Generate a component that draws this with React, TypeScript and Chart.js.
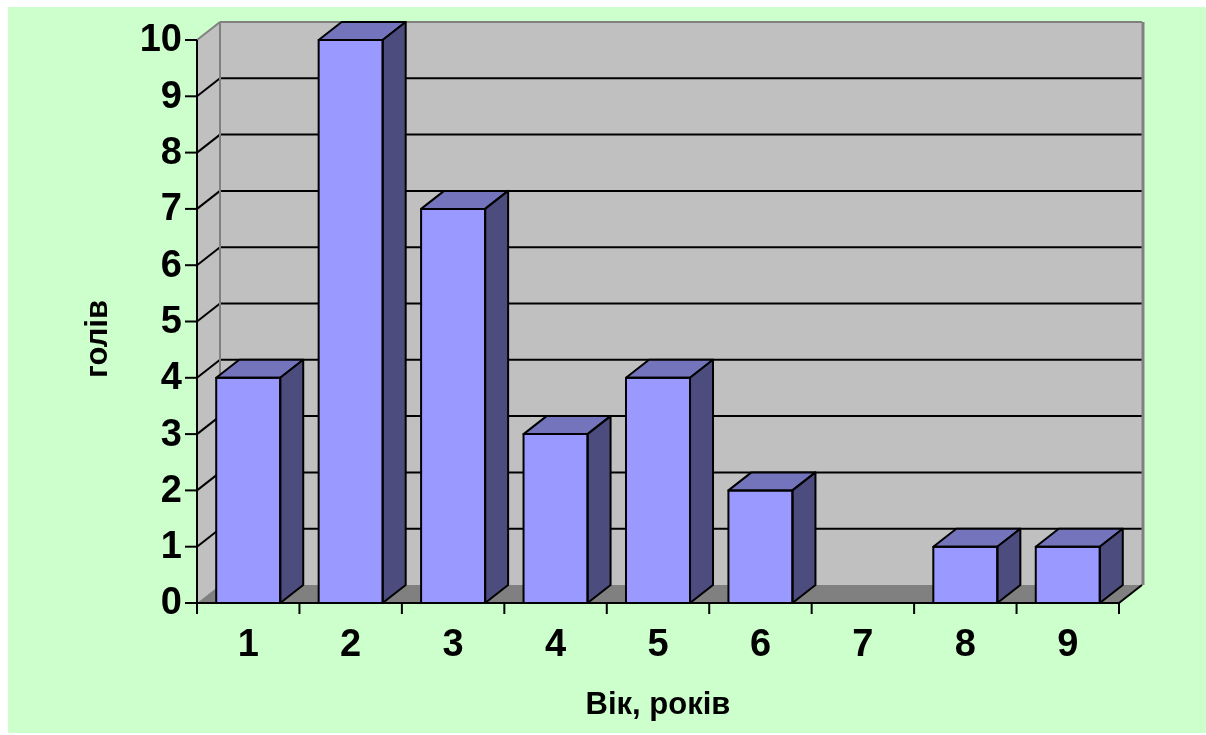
import React, { useEffect, useRef } from "react";
import { Chart, registerables } from "chart.js";

Chart.register(...registerables);

const categories = ["1", "2", "3", "4", "5", "6", "7", "8", "9"];
const headCounts = [4, 10, 7, 3, 4, 2, 0, 1, 1];
const yTickValues = [0, 1, 2, 3, 4, 5, 6, 7, 8, 9, 10];
const xTitle = "Вік, років";
const yTitle = "голів";

const DX = 23;
const DY = -18;
const FONT = '"Liberation Sans", Arial, sans-serif';

function line(ctx: CanvasRenderingContext2D, x1: number, y1: number, x2: number, y2: number) {
  ctx.beginPath();
  ctx.moveTo(x1, y1);
  ctx.lineTo(x2, y2);
  ctx.stroke();
}

function poly(ctx: CanvasRenderingContext2D, pts: number[][], fill: string, stroke?: string, lw = 2) {
  ctx.beginPath();
  ctx.moveTo(pts[0][0], pts[0][1]);
  for (let i = 1; i < pts.length; i++) ctx.lineTo(pts[i][0], pts[i][1]);
  ctx.closePath();
  ctx.fillStyle = fill;
  ctx.fill();
  if (stroke) {
    ctx.strokeStyle = stroke;
    ctx.lineWidth = lw;
    ctx.stroke();
  }
}

const threeDPlugin = {
  id: "threeD",
  beforeDatasetsDraw(chart: any) {
    const { ctx, chartArea } = chart;
    const { left, right, bottom } = chartArea;
    const xs = chart.scales.x;
    const ys = chart.scales.y;
    const top = ys.getPixelForValue(ys.max);
    ctx.save();
    ctx.lineJoin = "round";
    // back wall
    ctx.fillStyle = "#C0C0C0";
    ctx.fillRect(left + DX, top + DY, right - left, bottom - top);
    // left wall
    poly(ctx, [[left, top], [left + DX, top + DY], [left + DX, bottom + DY], [left, bottom]], "#C0C0C0");
    // floor
    poly(ctx, [[left, bottom], [right, bottom], [right + DX, bottom + DY], [left + DX, bottom + DY]], "#808080");
    // gridlines
    ctx.strokeStyle = "#000";
    ctx.lineWidth = 2;
    yTickValues.forEach((v) => {
      if (v === ys.min || v === ys.max) return;
      const py = ys.getPixelForValue(v);
      line(ctx, left, py, left + DX, py + DY);
      line(ctx, left + DX, py + DY, right + DX, py + DY);
    });
    // wall edges
    ctx.strokeStyle = "#808080";
    ctx.lineWidth = 2;
    line(ctx, left, top, left + DX, top + DY);
    line(ctx, left + DX, top + DY, right + DX, top + DY);
    line(ctx, left + DX, top + DY, left + DX, bottom + DY);
    ctx.lineWidth = 3;
    line(ctx, right + DX + 1, top + DY, right + DX + 1, bottom + DY);
    // floor edges
    ctx.strokeStyle = "#000";
    ctx.lineWidth = 2;
    line(ctx, right, bottom, right + DX, bottom + DY);
    // axes
    line(ctx, left, top, left, bottom + 1);
    line(ctx, left, bottom, right, bottom);
    // y ticks and labels
    ctx.fillStyle = "#000";
    ctx.font = `bold 38px ${FONT}`;
    ctx.textAlign = "right";
    ctx.textBaseline = "middle";
    yTickValues.forEach((v) => {
      const py = ys.getPixelForValue(v);
      line(ctx, left - 12, py, left, py);
      ctx.fillText(String(v), left - 15, py + 1);
    });
    // x ticks and labels
    const cw = (right - left) / categories.length;
    ctx.textAlign = "center";
    for (let i = 0; i <= categories.length; i++) {
      const px = left + i * cw;
      line(ctx, px, bottom, px, bottom + 11);
    }
    categories.forEach((c, i) => {
      ctx.fillText(c, xs.getPixelForValue(i), bottom + 43);
    });
    // titles
    ctx.font = `bold 31px ${FONT}`;
    ctx.textBaseline = "alphabetic";
    ctx.fillText(xTitle, (left + right) / 2, bottom + 111);
    ctx.save();
    ctx.translate(99, 332);
    ctx.rotate(-Math.PI / 2);
    ctx.textAlign = "center";
    ctx.fillText(yTitle, 0, 0);
    ctx.restore();
    ctx.restore();
  },
  afterDatasetsDraw(chart: any) {
    const { ctx } = chart;
    const meta = chart.getDatasetMeta(0);
    ctx.save();
    ctx.lineJoin = "round";
    meta.data.forEach((bar: any, i: number) => {
      if (!headCounts[i]) return;
      const { x, y, base, width } = bar.getProps(["x", "y", "base", "width"], true);
      const l = x - width / 2;
      const r = x + width / 2;
      poly(ctx, [[l, y], [l + DX, y + DY], [r + DX, y + DY], [r, y]], "#7474BC", "#000", 2);
      poly(ctx, [[r, y], [r + DX, y + DY], [r + DX, base + DY], [r, base]], "#4C4C7E", "#000", 2);
      ctx.strokeStyle = "#000";
      ctx.lineWidth = 2;
      ctx.strokeRect(l, y, width, base - y);
    });
    ctx.restore();
  },
};

export default function App() {
  const ref = useRef<HTMLCanvasElement>(null);
  useEffect(() => {
    if (!ref.current) return;
    const chart = new Chart(ref.current, {
      type: "bar",
      data: {
        labels: categories,
        datasets: [
          {
            data: headCounts,
            backgroundColor: "#9999FF",
            borderWidth: 0,
            barPercentage: 0.625,
            categoryPercentage: 1,
          },
        ],
      },
      options: {
        responsive: false,
        animation: false,
        layout: { padding: { left: 189, right: 87, top: 33, bottom: 130 } },
        plugins: { legend: { display: false }, tooltip: { enabled: false } },
        scales: {
          x: { display: false, offset: true },
          y: { display: false, min: 0, max: 10 },
        },
      },
      plugins: [threeDPlugin],
    });
    return () => chart.destroy();
  }, []);
  return (
    <div style={{ position: "absolute", left: 8, top: 7, width: 1198, height: 726, background: "#CCFFCC" }}>
      <canvas ref={ref} width={1198} height={726} style={{ display: "block" }} />
    </div>
  );
}
